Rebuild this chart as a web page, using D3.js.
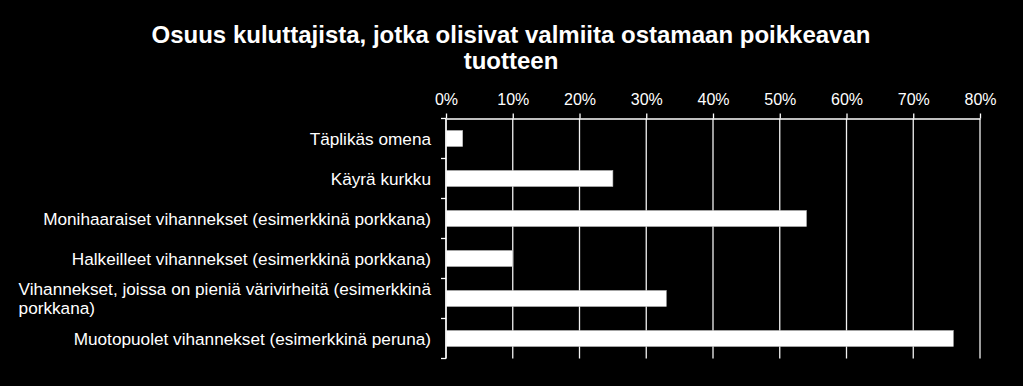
<!DOCTYPE html>
<html>
<head>
<meta charset="utf-8">
<script src="https://cdn.jsdelivr.net/npm/d3@7"></script>
<style>
  html, body { margin: 0; padding: 0; background: #000; }
  svg { display: block; }
  text { font-family: "Liberation Sans", Arial, sans-serif; fill: #fff; }
</style>
</head>
<body>
<svg id="chart" width="1023" height="386"></svg>
<script>
const categories = [
  "Täplikäs omena",
  "Käyrä kurkku",
  "Monihaaraiset vihannekset (esimerkkinä porkkana)",
  "Halkeilleet vihannekset (esimerkkinä porkkana)",
  "Vihannekset, joissa on pieniä värivirheitä (esimerkkinä porkkana)",
  "Muotopuolet vihannekset (esimerkkinä peruna)"
];
const values = [0.025, 0.25, 0.54, 0.10, 0.33, 0.76];
const xTicks = [0, 0.1, 0.2, 0.3, 0.4, 0.5, 0.6, 0.7, 0.8];
const titleLines = ["Osuus kuluttajista, jotka olisivat valmiita ostamaan poikkeavan", "tuotteen"];

const W = 1023, H = 386;
const m = { left: 446, right: 43, top: 118.5, bottom: 27.5 };
const svg = d3.select("#chart");
svg.append("rect").attr("width", W).attr("height", H).attr("fill", "#000");

const x = d3.scaleLinear().domain([0, 0.8]).range([m.left, W - m.right]);
const y = d3.scaleBand().domain(categories).range([m.top, H - m.bottom])
  .paddingInner(0.6).paddingOuter(0.3);
const step = y.step();

// Title
svg.append("g").selectAll("text").data(titleLines).join("text")
  .attr("x", 511).attr("y", (d, i) => 42.5 + i * 26.5)
  .attr("text-anchor", "middle")
  .style("font-size", "24px").style("font-weight", "bold")
  .text(d => d);

// Gridlines
svg.append("g").selectAll("line").data(xTicks).join("line")
  .attr("x1", d => x(d)).attr("x2", d => x(d))
  .attr("y1", m.top).attr("y2", H - m.bottom)
  .attr("stroke", "#f2f2f2").attr("stroke-width", 1.3);

// X axis (top)
const xAxis = d3.axisTop(x).tickValues(xTicks).tickFormat(d3.format(".0%"))
  .tickSizeInner(5).tickSizeOuter(0).tickPadding(9);
const gx = svg.append("g").attr("transform", `translate(0,${m.top})`).call(xAxis);
gx.select(".domain").attr("stroke", "#fff").attr("stroke-width", 1.3);
gx.selectAll(".tick line").attr("stroke", "#fff").attr("stroke-width", 1.3);
gx.selectAll(".tick text").style("font-size", "16px").attr("fill", "#fff")
  .style("font-family", "'Liberation Sans', Arial, sans-serif");

// Bars
svg.append("g").selectAll("rect").data(categories).join("rect")
  .attr("x", x(0))
  .attr("y", d => y(d))
  .attr("width", (d, i) => x(values[i]) - x(0))
  .attr("height", y.bandwidth())
  .attr("fill", "#fff")
  .attr("stroke", "#bbb").attr("stroke-width", 0.6);

// Y axis line and boundary ticks
const bounds = d3.range(categories.length + 1).map(i => m.top + i * step);
const gy = svg.append("g");
gy.append("line").attr("x1", m.left).attr("x2", m.left)
  .attr("y1", m.top).attr("y2", H - m.bottom)
  .attr("stroke", "#fff").attr("stroke-width", 1.3);
gy.selectAll("line.tk").data(bounds).join("line").attr("class", "tk")
  .attr("x1", m.left - 5).attr("x2", m.left)
  .attr("y1", d => d).attr("y2", d => d)
  .attr("stroke", "#fff").attr("stroke-width", 1.3);

// Category labels with wrapping
const FS = "17.2px";
const labelRight = 431, maxW = 428, lineH = 19.5;
const measure = svg.append("text").style("font-size", FS).attr("x", -1000);
function tw(s) { measure.text(s); return measure.node().getComputedTextLength(); }
categories.forEach((c, i) => {
  const words = c.split(" ");
  const lines = [];
  let cur = "";
  words.forEach(w => {
    const t = cur ? cur + " " + w : w;
    if (tw(t) > maxW && cur) { lines.push(cur); cur = w; } else cur = t;
  });
  lines.push(cur);
  const cy = y(c) + y.bandwidth() / 2;
  const widest = d3.max(lines, tw);
  const t = svg.append("text").style("font-size", FS);
  if (lines.length === 1) {
    t.attr("x", labelRight).attr("y", cy).attr("dy", "0.35em").attr("text-anchor", "end").text(c);
  } else {
    const x0 = labelRight - widest;
    lines.forEach((l, k) => {
      t.append("tspan").attr("x", x0)
        .attr("y", cy + (k - (lines.length - 1) / 2) * lineH)
        .attr("dy", "0.35em").text(l);
    });
  }
});
measure.remove();
</script>
</body>
</html>
